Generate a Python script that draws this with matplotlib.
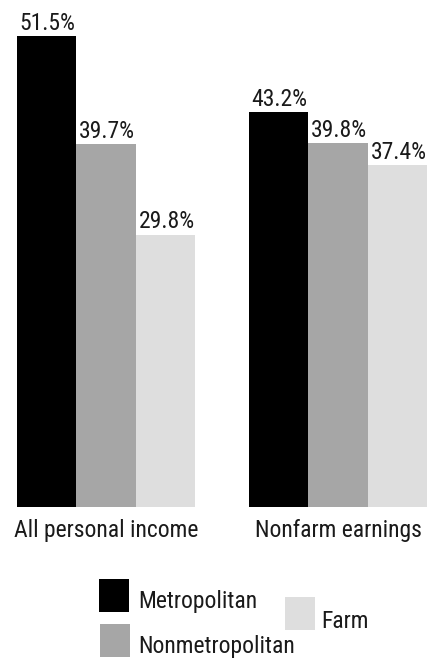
import matplotlib
matplotlib.use("Agg")
import matplotlib.pyplot as plt
from matplotlib.patches import Rectangle
import numpy as np

plt.rcParams['font.family'] = ['Roboto Condensed', 'Archivo Narrow', 'DejaVu Sans']

categories = ["All personal income", "Nonfarm earnings"]
series_names = ["Metropolitan", "Nonmetropolitan", "Farm"]
metropolitan = [51.5, 43.2]
nonmetropolitan = [39.7, 39.8]
farm = [29.8, 37.4]
series_values = [metropolitan, nonmetropolitan, farm]
colors = ["#000000", "#a6a6a6", "#dedede"]

FS = 17
TXT = '#1a1a1a'
W, H = 442, 658
fig = plt.figure(figsize=(W / 100, H / 100), dpi=100)
bottom_px = 507
ax = fig.add_axes([0, (H - bottom_px) / H, 1, bottom_px / H])

group_px = 232.0
x0 = 106.0
ax.set_xlim(-x0 / group_px, (W - x0) / group_px)
ax.set_ylim(0, bottom_px / 9.14)

x = np.arange(len(categories))
bw = 59.5 / group_px
for i, (vals, c) in enumerate(zip(series_values, colors)):
    pos = x + (i - 1) * bw
    bars = ax.bar(pos, vals, width=bw, color=c, linewidth=0)
    for b, v in zip(bars, vals):
        ax.annotate(f"{v:.1f}%", (b.get_x(), v), xytext=(3, 6.5),
                    textcoords='offset pixels', ha='left', va='baseline',
                    fontsize=FS, color=TXT)

ax.set_xticks(x)
ax.set_xticklabels(categories, fontsize=FS, color=TXT)
ax.tick_params(axis='x', length=0, pad=9)
ax.set_yticks([])
for s in ax.spines.values():
    s.set_visible(False)

# legend (pixel positions from top-left)
squares = [(99, 579, 0), (100, 624, 1), (285, 597, 2)]
text_pos = [(138, 608), (138, 653), (321, 628)]
for (lx, ly, idx), (tx, ty) in zip(squares, text_pos):
    fig.patches.append(Rectangle((lx / W, 1 - (ly + 33) / H), 30 / W, 33 / H,
                                 transform=fig.transFigure, color=colors[idx],
                                 linewidth=0))
    fig.text(tx / W, 1 - ty / H, series_names[idx], fontsize=FS,
             color=TXT, ha='left', va='baseline')

fig.savefig("out.png", dpi=100)
